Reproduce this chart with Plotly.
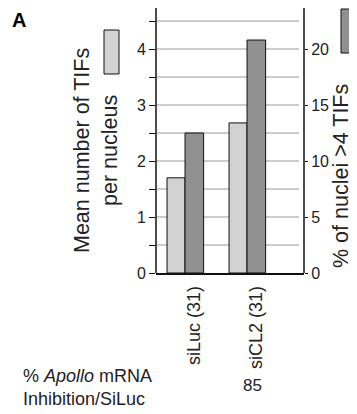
import plotly.graph_objects as go

# ---- data ----
categories = ["siLuc (31)", "siCL2 (31)"]
mean_tifs = [1.70, 2.68]            # left axis: Mean number of TIFs per nucleus
pct_nuclei = [12.5, 20.8]           # right axis: % of nuclei >=4 TIFs
left_ticks = [0, 1, 2, 3, 4]
right_ticks = [0, 5, 10, 15, 20]
grid_vals = [0.5, 1, 1.5, 2, 2.5, 3, 3.5, 4, 4.5]
inhibition_label = "85"

# ---- geometry (window pixels; page body has an 8px margin) ----
OFF = 8
W, H = 357 - OFF, 414 - OFF
L, R, T, B = 156 - OFF, 304 - OFF, 0, 273 - OFF
def px(x):
    return ((x - OFF) - L) / (R - L)
def py(y):
    return (B - (y - OFF)) / (B - T)

UNIT = 56.0           # px per left-axis unit
y_top = (B - T) / UNIT

FONT = "Liberation Sans, Arial, sans-serif"
TXT = "#222222"
LIGHT = "#d2d2d2"
DARK = "#909090"

fig = go.Figure()
fig.add_trace(go.Bar(
    x=categories, y=mean_tifs, yaxis="y", width=0.29, offset=-0.29,
    marker=dict(color=LIGHT, line=dict(color="#111111", width=1)),
    showlegend=False, hoverinfo="skip"))
fig.add_trace(go.Bar(
    x=categories, y=pct_nuclei, yaxis="y2", width=0.30, offset=0.0,
    marker=dict(color=DARK, line=dict(color="#111111", width=1)),
    showlegend=False, hoverinfo="skip"))

shapes = []
for v in grid_vals:
    shapes.append(dict(type="line", xref="paper", yref="y", x0=0, x1=px(299), y0=v, y1=v,
                       line=dict(color="#9c9c9c", width=1.2), layer="below"))
# legend swatches
shapes.append(dict(type="rect", xref="paper", yref="paper", x0=px(104), x1=px(119), y0=py(74), y1=py(30),
                   fillcolor=LIGHT, line=dict(color="#111111", width=1)))
shapes.append(dict(type="rect", xref="paper", yref="paper", x0=px(341), x1=px(355.5), y0=py(53), y1=py(9),
                   fillcolor=DARK, line=dict(color="#111111", width=1)))
# axis lines (left to window y=5, right to window y=8)
shapes.append(dict(type="line", xref="paper", yref="paper", x0=0, x1=0, y0=0, y1=py(5),
                   line=dict(color="#111111", width=1.5)))
shapes.append(dict(type="line", xref="paper", yref="paper", x0=1, x1=1, y0=0, y1=py(8),
                   line=dict(color="#111111", width=1.5)))

annotations = [
    dict(text="<b>A</b>", xref="paper", yref="paper", x=px(11), y=py(20), xanchor="left", yanchor="middle",
         showarrow=False, borderpad=0, font=dict(size=20, color="#000000", family=FONT)),
    dict(text="Mean number of TIFs<br>per nucleus", xref="paper", yref="paper", x=px(96), y=py(151),
         xanchor="center", yanchor="middle", textangle=-90, showarrow=False,
         font=dict(size=21.5, color=TXT, family=FONT)),
    dict(text="% of nuclei <u>></u>4 TIFs", xref="paper", yref="paper", x=px(341), y=py(176),
         xanchor="center", yanchor="middle", textangle=-90, showarrow=False, borderpad=0,
         font=dict(size=21.5, color=TXT, family=FONT)),
    dict(text="% <i>Apollo</i> mRNA<br>Inhibition/SiLuc", xref="paper", yref="paper", x=px(21), y=py(387),
         xanchor="left", yanchor="middle", align="left", showarrow=False,
         font=dict(size=18, color=TXT, family=FONT)),
    dict(text=inhibition_label, xref="paper", yref="paper", x=px(252), y=py(385),
         xanchor="center", yanchor="middle", showarrow=False,
         font=dict(size=17, color=TXT, family=FONT)),
]

fig.update_layout(
    width=W, height=H,
    margin=dict(l=L, r=W - R, t=T, b=H - B, autoexpand=False),
    paper_bgcolor="white", plot_bgcolor="white",
    barmode="overlay",
    font=dict(family=FONT, color=TXT),
    xaxis=dict(type="category", range=[-0.468, 1.919], showline=True, linecolor="#111111", linewidth=1.5,
               ticks="", tickangle=-90, tickfont=dict(size=18, color=TXT), showgrid=False,
               ticklabelshift=9, ticklabelstandoff=4, zeroline=False),
    yaxis=dict(range=[0, y_top], tickvals=left_ticks, ticks="outside", ticklen=6, tickcolor="#111111",
               showline=False, showgrid=False, zeroline=False,
               tickfont=dict(size=16, color=TXT),
               minor=dict(dtick=0.5, ticks="outside", ticklen=6, tickcolor="#111111", showgrid=False)),
    yaxis2=dict(range=[0, y_top * 5], overlaying="y", side="right", tickvals=right_ticks, ticks="outside",
                ticklen=3, tickcolor="#111111", showline=False,
                showgrid=False, zeroline=False, tickfont=dict(size=16, color=TXT)),
    shapes=shapes, annotations=annotations,
)

fig.write_html("out.html")
